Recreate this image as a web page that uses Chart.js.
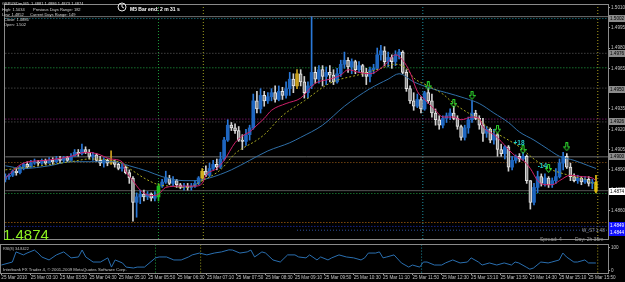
<!DOCTYPE html>
<html><head><meta charset="utf-8">
<script src="https://cdn.jsdelivr.net/npm/chart.js@4/dist/chart.umd.min.js"></script>
<style>
html,body{margin:0;padding:0;background:#000;width:625px;height:282px;overflow:hidden}
#wrap{position:relative;width:625px;height:282px;background:#000}
#main{position:absolute;left:0;top:0;width:625px;height:244px}
#rsi{position:absolute;left:0;top:244px;width:625px;height:38px}
</style></head><body>
<div id="wrap">
<canvas id="main" width="625" height="244"></canvas>
<canvas id="rsi" width="625" height="38"></canvas>
</div>
<script>
// ---------- DATA (GBPUSDm, M5, 25 Mar 2010) ----------
const opens = [
1.4883,1.4885,1.4886,1.4889,1.4888,1.4892,1.4894,1.4892,1.4895,1.4896,
1.4895,1.4897,1.4895,1.4897,1.4896,1.4898,1.4897,1.4899,1.4897,1.4900,
1.4903,1.4902,1.4905,1.4903,1.4900,1.4901,1.4897,1.4895,1.4897,1.4895,
1.4896,1.4894,1.4891,1.4892,1.4888,1.4884,1.4866,1.4870,1.4872,1.4870,
1.4872,1.4869,1.4870,1.4878,1.4881,1.4884,1.4880,1.4882,1.4879,1.4877,
1.4878,1.4877,1.4878,1.4880,1.4884,1.4889,1.4886,1.4891,1.4894,1.4892,
1.4898,1.4912,1.4923,1.4921,1.4919,1.4912,1.4911,1.4916,1.4921,1.4941,
1.4935,1.4945,1.4941,1.4944,1.4947,1.4942,1.4948,1.4945,1.4950,1.4957,
1.4952,1.4961,1.4955,1.4947,1.4952,1.4962,1.4957,1.4964,1.4959,1.4962,
1.4960,1.4955,1.4961,1.4968,1.4971,1.4966,1.4970,1.4964,1.4967,1.4962,
1.4959,1.4964,1.4965,1.4975,1.4978,1.4970,1.4973,1.4970,1.4975,1.4977,
1.4962,1.4950,1.4941,1.4937,1.4942,1.4935,1.4947,1.4941,1.4932,1.4927,
1.4923,1.4928,1.4930,1.4932,1.4928,1.4922,1.4914,1.4921,1.4927,1.4932,
1.4928,1.4923,1.4917,1.4920,1.4912,1.4916,1.4905,1.4902,1.4907,1.4892,
1.4897,1.4900,1.4898,1.4900,1.4882,1.4866,1.4877,1.4885,1.4880,1.4884,
1.4879,1.4882,1.4885,1.4895,1.4900,1.4892,1.4885,1.4882,1.4884,1.4881,
1.4883,1.4880,1.4881];
const highs = [
1.4887,1.4887,1.4890,1.4891,1.4893,1.4895,1.4896,1.4897,1.4898,1.4897,
1.4898,1.4898,1.4899,1.4899,1.4900,1.4900,1.4900,1.4900,1.4902,1.4905,
1.4905,1.4909,1.4907,1.4905,1.4903,1.4902,1.4900,1.4899,1.4898,1.4904,
1.4897,1.4895,1.4894,1.4893,1.4890,1.4885,1.4873,1.4875,1.4875,1.4874,
1.4873,1.4874,1.4880,1.4883,1.4889,1.4886,1.4885,1.4883,1.4880,1.4880,
1.4880,1.4880,1.4882,1.4885,1.4891,1.4893,1.4895,1.4897,1.4898,1.4903,
1.4914,1.4927,1.4925,1.4924,1.4922,1.4916,1.4920,1.4923,1.4946,1.4948,
1.4950,1.4948,1.4947,1.4950,1.4952,1.4952,1.4951,1.4955,1.4962,1.4961,
1.4964,1.4964,1.4959,1.4955,1.5003,1.4966,1.4967,1.4967,1.4966,1.4967,
1.4964,1.4965,1.4971,1.4977,1.4973,1.4972,1.4971,1.4970,1.4968,1.4965,
1.4966,1.4968,1.4980,1.4982,1.4981,1.4977,1.4975,1.4978,1.4979,1.4978,
1.4964,1.4952,1.4947,1.4946,1.4944,1.4948,1.4950,1.4946,1.4935,1.4930,
1.4930,1.4932,1.4935,1.4937,1.4930,1.4923,1.4923,1.4929,1.4941,1.4934,
1.4930,1.4928,1.4922,1.4921,1.4920,1.4917,1.4909,1.4908,1.4908,1.4900,
1.4901,1.4902,1.4903,1.4901,1.4882,1.4880,1.4889,1.4887,1.4887,1.4885,
1.4884,1.4891,1.4898,1.4903,1.4902,1.4895,1.4887,1.4886,1.4885,1.4885,
1.4885,1.4883,1.4886];
const lows = [
1.4881,1.4883,1.4885,1.4886,1.4887,1.4890,1.4891,1.4892,1.4894,1.4893,
1.4894,1.4894,1.4895,1.4894,1.4895,1.4895,1.4896,1.4896,1.4897,1.4900,
1.4900,1.4901,1.4902,1.4898,1.4897,1.4896,1.4893,1.4892,1.4893,1.4894,
1.4892,1.4890,1.4889,1.4887,1.4880,1.4852,1.4855,1.4865,1.4867,1.4868,
1.4867,1.4867,1.4867,1.4877,1.4880,1.4879,1.4878,1.4877,1.4876,1.4875,
1.4875,1.4875,1.4877,1.4879,1.4882,1.4885,1.4885,1.4890,1.4890,1.4891,
1.4897,1.4911,1.4919,1.4917,1.4911,1.4905,1.4908,1.4912,1.4920,1.4932,
1.4932,1.4937,1.4939,1.4941,1.4940,1.4941,1.4942,1.4943,1.4945,1.4947,
1.4950,1.4952,1.4943,1.4943,1.4950,1.4954,1.4954,1.4952,1.4953,1.4955,
1.4953,1.4954,1.4959,1.4965,1.4962,1.4961,1.4961,1.4962,1.4959,1.4953,
1.4955,1.4961,1.4964,1.4971,1.4967,1.4966,1.4965,1.4967,1.4972,1.4961,
1.4948,1.4939,1.4934,1.4936,1.4932,1.4934,1.4939,1.4929,1.4923,1.4920,
1.4921,1.4925,1.4927,1.4927,1.4920,1.4912,1.4912,1.4917,1.4925,1.4927,
1.4920,1.4911,1.4914,1.4910,1.4909,1.4900,1.4900,1.4898,1.4889,1.4890,
1.4895,1.4896,1.4897,1.4880,1.4861,1.4864,1.4873,1.4878,1.4878,1.4877,
1.4877,1.4880,1.4884,1.4890,1.4891,1.4882,1.4881,1.4880,1.4879,1.4880,
1.4878,1.4876,1.4873];
const closes = [
1.4885,1.4886,1.4889,1.4888,1.4892,1.4894,1.4892,1.4895,1.4896,1.4895,
1.4897,1.4895,1.4897,1.4896,1.4898,1.4897,1.4899,1.4897,1.4900,1.4903,
1.4902,1.4905,1.4903,1.4900,1.4901,1.4897,1.4895,1.4897,1.4895,1.4896,
1.4894,1.4891,1.4892,1.4888,1.4884,1.4866,1.4870,1.4872,1.4870,1.4872,
1.4869,1.4871,1.4878,1.4881,1.4884,1.4880,1.4882,1.4879,1.4877,1.4878,
1.4877,1.4878,1.4880,1.4884,1.4889,1.4886,1.4891,1.4894,1.4892,1.4898,
1.4912,1.4923,1.4921,1.4919,1.4912,1.4911,1.4916,1.4921,1.4941,1.4935,
1.4945,1.4941,1.4944,1.4947,1.4942,1.4948,1.4945,1.4950,1.4957,1.4952,
1.4961,1.4955,1.4947,1.4952,1.4962,1.4957,1.4964,1.4959,1.4962,1.4960,
1.4955,1.4961,1.4968,1.4971,1.4966,1.4970,1.4964,1.4967,1.4962,1.4959,
1.4964,1.4965,1.4975,1.4978,1.4970,1.4973,1.4970,1.4975,1.4977,1.4962,
1.4950,1.4941,1.4937,1.4942,1.4935,1.4947,1.4941,1.4932,1.4927,1.4923,
1.4928,1.4930,1.4932,1.4928,1.4922,1.4914,1.4921,1.4927,1.4932,1.4928,
1.4923,1.4917,1.4920,1.4912,1.4916,1.4905,1.4902,1.4907,1.4892,1.4897,
1.4900,1.4898,1.4900,1.4882,1.4866,1.4877,1.4885,1.4880,1.4884,1.4879,
1.4882,1.4885,1.4895,1.4900,1.4892,1.4885,1.4882,1.4884,1.4881,1.4883,
1.4880,1.4881,1.4874];

// moving averages (sampled along the curves)
const fastBars = [0,5,11,18,22,25,29,32,33,35,37,40,42,44,48,52,54,55,58,60,63,65,67,69,71,73,77,81,85,89,92,94,97,100,103,105,107,109,111,113,115,118,120,123,125,128,130,131,134,136,138,140,142,144,146,148,150,152,155,158,161,162];
const fastVals = [1.4884,1.4895,1.4897,1.4900,1.4903,1.4902,1.4898,1.4896,1.4889,1.4882,1.4875,1.4871,1.4872,1.4877,1.4878,1.4878,1.4880,1.4886,1.4891,1.4897,1.4910,1.4915,1.4918,1.4923,1.4928,1.4934,1.4939,1.4943,1.4954,1.4957,1.4960,1.4964,1.4962,1.4961,1.4965,1.4970,1.4975,1.4971,1.4962,1.4948,1.4942,1.4934,1.4929,1.4929,1.4927,1.4929,1.4928,1.4922,1.4916,1.4911,1.4905,1.4900,1.4897,1.4891,1.4882,1.4879,1.4879,1.4882,1.4886,1.4885,1.4884,1.4882];
const midBars = [0,18,23,31,34,38,42,45,50,54,59,63,69,71,76,82,89,98,103,107,110,112,116,120,123,127,130,133,138,141,145,149,152,156,160,162];
const midVals = [1.4890,1.4896,1.4898,1.4896,1.4891,1.4884,1.4879,1.4878,1.4877,1.4882,1.4890,1.4902,1.4912,1.4916,1.4930,1.4941,1.4954,1.4961,1.4965,1.4968,1.4965,1.4958,1.4952,1.4946,1.4939,1.4932,1.4927,1.4920,1.4912,1.4907,1.4898,1.4891,1.4888,1.4885,1.4882,1.4878];
const slowBars = [0,5,12,18,23,30,34,39,43,49,52,56,62,67,72,78,81,87,93,100,105,108,112,117,121,126,130,134,138,141,145,149,152,156,160,162];
const slowVals = [1.4893,1.4891,1.4893,1.4896,1.4896,1.4896,1.4893,1.4889,1.4885,1.4882,1.4882,1.4884,1.4890,1.4897,1.4904,1.4910,1.4914,1.4923,1.4937,1.4950,1.4957,1.4961,1.4955,1.4950,1.4947,1.4943,1.4939,1.4932,1.4925,1.4918,1.4912,1.4905,1.4900,1.4897,1.4893,1.4891];

// RSI(8)
const rsiBars = [0,3,4,6,7,9,10,11,13,15,17,19,21,22,23,25,27,29,30,31,33,34,36,37,39,42,43,45,47,49,51,52,54,56,58,60,62,63,65,67,68,69,71,72,74,76,78,80,81,83,84,86,87,89,90,92,94,96,98,99,100,102,103,104,105,107,109,111,112,114,115,116,118,120,121,123,125,127,128,130,131,133,135,137,139,140,141,143,144,145,147,149,150,152,153,154,156,157,159,160,162];
const rsiVals = [26,39,83,70,78,91,78,61,48,70,83,57,61,91,61,39,39,57,17,48,35,17,13,17,17,57,61,61,48,48,61,70,78,70,78,83,92,91,78,83,91,61,83,78,48,39,70,70,61,57,70,48,61,48,57,70,61,57,48,57,78,78,83,57,61,70,35,17,26,17,39,39,26,26,35,48,35,39,57,39,26,35,26,35,26,39,35,17,8,13,39,35,39,48,78,61,39,39,48,35,34.8];

// axes
const xTickBars = [0,8,16,24,32,40,48,56,64,72,80,88,96,104,112,120,128,136,144,152,160];
const xLabels = ['25 Mar 2010','25 Mar 03:10','25 Mar 03:50','25 Mar 04:30','25 Mar 05:10','25 Mar 05:50','25 Mar 06:30','25 Mar 07:10','25 Mar 07:50','25 Mar 08:30','25 Mar 09:10','25 Mar 09:50','25 Mar 10:30','25 Mar 11:10','25 Mar 11:50','25 Mar 12:30','25 Mar 13:10','25 Mar 13:50','25 Mar 14:30','25 Mar 15:10','25 Mar 15:50'];
const yTicks = [1.5010,1.4995,1.4980,1.4965,1.4950,1.4935,1.4920,1.4905,1.4890,1.4875,1.4860,1.4845];
const rsiTicks = [0,100];

// horizontal levels and vertical markers
const levelPrices = [1.50032,1.50018,1.49761,1.49654,1.49504,1.49275,1.49254,1.48996,1.48954,1.48746,1.48725,1.48511,1.48482,1.48454];
const levelFrom   = [0,0,0,0,0,0,0,0,0,0,0,0,0,80];
const vlineBars = [42,54.3,114.5,162.5];

// signal arrows and labels
const arrowBars = [116,123,128,135,142,149,154];
const arrowPrices = [1.4952,1.4939,1.4945,1.4920,1.4905,1.4891,1.4907];
const annoBars = [139.4,146];
const annoPrices = [1.4910,1.4893];
const annoTexts = ['+18','-14'];

// price tags on the right axis
const tagPrices = [1.5002,1.4976,1.4950,1.4926,1.4900];
const bidPrice = 1.4874;
const blueTagPrices = [1.4849,1.4844];

// ---------- STYLE ----------
const FONT = 'Liberation Sans';
const levelColors = ['#707070','#1e8fa0','#606060','#22aa44','#606060','#a0208a','#606060','#707070','#a06018','#555555','#20a040','#c07010','#2838c8','#3050a0'];
const levelDash = [[],[1,2],[1,2],[1,2],[1,2],[1,2],[1,2],[],[1,2],[],[1,2],[1,2],[1,2],[1,2]];
const vlineColors = ['#1e9e3a','#a0a020','#1e8fa0','#b0a020'];
const specialColors = {29:'#d0a020',42:'#20c020',54:'#d0b020',80:'#c8a020',162:'#e0c010'};
const X_MIN = -0.1, X_MAX = 165.3;
const Y_MIN = 1.48389, Y_MAX = 1.50118;

const N = opens.length;
const idx = Array.from({length:N},(_,i)=>i);
const isUp = i => closes[i] >= opens[i];
const bodyFill = i => specialColors[i] || (isUp(i) ? '#1e66c0' : '#8a8a8a');
const bodyEdge = i => specialColors[i] || (isUp(i) ? '#2a78d8' : '#e6e6e6');
const wickCol  = i => specialColors[i] || (isUp(i) ? '#2a78d8' : '#d0d0d0');

function makeArrow(){
  const c=document.createElement('canvas'); c.width=7; c.height=9;
  const g=c.getContext('2d');
  g.strokeStyle='#30e030'; g.lineWidth=1;
  g.beginPath(); g.moveTo(2.5,0.5); g.lineTo(4.5,0.5); g.lineTo(4.5,4.5); g.lineTo(6.5,4.5);
  g.lineTo(3.5,8.5); g.lineTo(0.5,4.5); g.lineTo(2.5,4.5); g.closePath(); g.stroke();
  return c;
}

const datasets = [];
datasets.push({type:'scatter', data: arrowBars.map((b,k)=>({x:b,y:arrowPrices[k]})), pointStyle: makeArrow(), pointRadius:4, order:0});
datasets.push({type:'line', data: fastBars.map((b,k)=>({x:b,y:fastVals[k]})), borderColor:'#d0206a', borderWidth:1, pointRadius:0, cubicInterpolationMode:'monotone', order:1});
datasets.push({type:'line', data: midBars.map((b,k)=>({x:b,y:midVals[k]})), borderColor:'#a8a820', borderWidth:1, borderDash:[2,2], pointRadius:0, cubicInterpolationMode:'monotone', order:1});
datasets.push({type:'line', data: slowBars.map((b,k)=>({x:b,y:slowVals[k]})), borderColor:'#2f6fa8', borderWidth:1, pointRadius:0, cubicInterpolationMode:'monotone', order:1});
datasets.push({type:'bar', data: idx.map(i=>({x:i,y:[opens[i],closes[i]]})), backgroundColor: c=>bodyFill(c.dataIndex), borderColor: c=>bodyEdge(c.dataIndex), borderWidth: c=> isUp(c.dataIndex)?0:1, borderSkipped:false, barThickness:3, minBarLength:1, grouped:false, order:2});
datasets.push({type:'bar', data: idx.map(i=>({x:i,y:[lows[i],highs[i]]})), backgroundColor: c=>wickCol(c.dataIndex), barThickness:1, grouped:false, order:3});
levelPrices.forEach((p,k)=>{
  datasets.push({type:'line', data:[{x:levelFrom[k],y:p},{x:X_MAX,y:p}], borderColor:levelColors[k], borderDash:levelDash[k], borderWidth:1, pointRadius:0, order:5});
});
vlineBars.forEach((v,k)=>{
  datasets.push({type:'line', data:[{x:v,y:Y_MIN},{x:v,y:Y_MAX}], borderColor:vlineColors[k], borderDash:[1,2], borderWidth:1, pointRadius:0, order:6});
});

function txt(ctx, s, x, y, font, color, align){
  ctx.font = font; ctx.fillStyle = color; ctx.textAlign = align||'left'; ctx.textBaseline='middle'; ctx.fillText(s, x, y);
}

const mainDeco = {
  id:'mainDeco',
  beforeDraw(chart){ const c=chart.ctx; c.save(); c.fillStyle='#000'; c.fillRect(0,0,chart.width,chart.height); c.restore(); },
  afterDraw(chart){
    const c=chart.ctx, a=chart.chartArea, xs=chart.scales.x, ys=chart.scales.y;
    c.save();
    c.strokeStyle='#8a8a8a'; c.lineWidth=1;
    c.strokeRect(a.left-0.5, a.top-0.5, a.right-a.left+1, a.bottom-a.top+1);
    // annotations +18 / -14
    annoTexts.forEach((t,k)=> txt(c, t, xs.getPixelForValue(annoBars[k]), ys.getPixelForValue(annoPrices[k]), 'bold 6.5px '+FONT, '#22cccc'));
    // price tags
    const tag = (p, bg, fg) => { const y=ys.getPixelForValue(p); c.fillStyle=bg; c.fillRect(609, Math.round(y)-3, 16, 7); txt(c, p.toFixed(4), 610, Math.round(y)+0.5, '4.6px '+FONT, fg); };
    tagPrices.forEach(p=>tag(p,'#8c8c8c','#000'));
    tag(bidPrice,'#ffffff','#000');
    blueTagPrices.forEach(p=>tag(p,'#1010ff','#fff'));
    // header info
    const hf='4px '+FONT, hc='#d4d4d4';
    txt(c,'GBPUSDm,M5  1.4881 1.4886 1.4873 1.4874',2,4,hf,hc);
    txt(c,'High: 1.5034',2,10,hf,hc); txt(c,'Previous Days Range: 182',33,10,hf,hc);
    txt(c,'Low: 1.4852',2,15,hf,hc); txt(c,'Current Days Range: 149',30,15,hf,hc);
    txt(c,'Close: 1.4886',4,20,hf,hc);
    txt(c,'Open: 1.502',4,25,hf,hc);
    // clock + bar timer
    c.strokeStyle='#e8e8e8'; c.lineWidth=1;
    c.beginPath(); c.arc(122,7,4,0,Math.PI*2); c.stroke();
    c.beginPath(); c.moveTo(122,4.5); c.lineTo(122,7); c.lineTo(124,8); c.stroke();
    txt(c,'M5 Bar end: 2 m 31 s',130,10,'bold 5px '+FONT,'#ffffff');
    // big bid price
    c.font='15px '+FONT; c.fillStyle='#8cf020'; c.textAlign='left'; c.textBaseline='alphabetic'; c.fillText('1.4874',3,239.5);
    // spread / info
    txt(c,'Spread: 4',540,240,'5px '+FONT,'#9a9a9a');
    txt(c,'Day: 2h 35m',575,240,'5px '+FONT,'#9a9a9a');
    txt(c,'W_S7 1.48',582,231,'4.6px '+FONT,'#9a9a9a');
    c.restore();
  }
};

new Chart(document.getElementById('main'), {
  type:'bar',
  data:{datasets},
  options:{
    responsive:false, animation:false, events:[],
    layout:{padding:{left:1,top:1,right:0,bottom:1}},
    plugins:{legend:{display:false}, tooltip:{enabled:false}},
    scales:{
      x:{type:'linear', min:X_MIN, max:X_MAX, offset:false, display:false, grid:{offset:false}},
      y:{type:'linear', position:'right', min:Y_MIN, max:Y_MAX, beginAtZero:false,
         afterBuildTicks: s => { s.ticks = yTicks.map(v=>({value:v})); },
         afterFit: s => { s.width = 17; s.paddingTop = 0; s.paddingBottom = 0; },
         ticks:{color:'#c4c4c4', font:{family:FONT, size:4.6}, padding:1, autoSkip:false, callback: v => Number(v).toFixed(4)},
         grid:{display:true, drawOnChartArea:false, drawTicks:true, tickLength:2, color:'#a0a0a0'},
         border:{display:true, color:'#a0a0a0'}}
    }
  },
  plugins:[mainDeco]
});

// ---------- RSI panel ----------
const rsiSets = [
  {type:'line', data: rsiBars.map((b,k)=>({x:b,y:rsiVals[k]})), borderColor:'#2a6fb0', borderWidth:1, pointRadius:0, tension:0, order:1}
];
vlineBars.forEach((v,k)=>{
  rsiSets.push({type:'line', data:[{x:v,y:-20},{x:v,y:130}], borderColor:vlineColors[k], borderDash:[1,2], borderWidth:1, pointRadius:0, order:6});
});
const rsiDeco = {
  id:'rsiDeco',
  beforeDraw(chart){ const c=chart.ctx; c.save(); c.fillStyle='#000'; c.fillRect(0,0,chart.width,chart.height); c.restore(); },
  afterDraw(chart){
    const c=chart.ctx, a=chart.chartArea;
    c.save();
    c.strokeStyle='#8a8a8a'; c.lineWidth=1;
    c.strokeRect(a.left-0.5, a.top-0.5, a.right-a.left+1, a.bottom-a.top+1);
    txt(c,'RSI(8) 34.8422',3,5,'3.8px '+FONT,'#c0c0c0');
    txt(c,'Interbank FX Trader 4, \u00a9 2001-2009 MetaQuotes Software Corp.',3,26,'4.3px '+FONT,'#c8c8c8');
    c.restore();
  }
};
new Chart(document.getElementById('rsi'), {
  type:'line',
  data:{datasets:rsiSets},
  options:{
    responsive:false, animation:false, events:[],
    layout:{padding:{left:1,top:1,right:0,bottom:0}},
    plugins:{legend:{display:false}, tooltip:{enabled:false}},
    scales:{
      x:{type:'linear', min:X_MIN, max:X_MAX, offset:false,
         afterBuildTicks: s => { s.ticks = xTickBars.map(v=>({value:v})); },
         afterFit: s => { s.height = 9; s.paddingLeft = 0; s.paddingRight = 0; },
         ticks:{align:'start', color:'#c0c0c0', font:{family:FONT, size:4.6}, padding:0, maxRotation:0, minRotation:0, autoSkip:false, callback:(v,i)=>xLabels[i]},
         grid:{display:true, drawOnChartArea:false, drawTicks:true, tickLength:2, color:'#a0a0a0'},
         border:{display:false}},
      y:{type:'linear', position:'right', min:-8.7, max:113,
         afterBuildTicks: s => { s.ticks = rsiTicks.map(v=>({value:v})); },
         afterFit: s => { s.width = 17; s.paddingTop = 0; s.paddingBottom = 0; },
         ticks:{color:'#c4c4c4', font:{family:FONT, size:4.6}, padding:1, autoSkip:false},
         grid:{display:true, drawOnChartArea:false, drawTicks:true, tickLength:2, color:'#a0a0a0'},
         border:{display:true, color:'#a0a0a0'}}
    }
  },
  plugins:[rsiDeco]
});
</script>
</body></html>
